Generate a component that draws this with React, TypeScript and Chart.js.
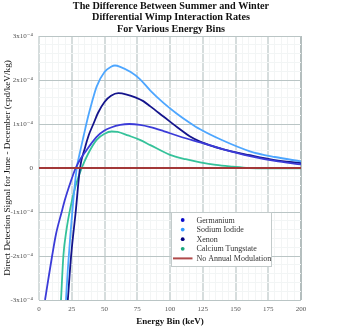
import React, { useEffect, useRef } from 'react';
import { Chart, registerables } from 'chart.js';

Chart.register(...registerables);

const titleLines = [
  'The Difference Between Summer and Winter',
  'Differential Wimp Interaction Rates',
  'For Various Energy Bins',
];
const yTitle = 'Direct Detection Signal for June - December (cpd/keV/kg)';
const xTitle = 'Energy Bin (keV)';

// y values in units of 1e-4 cpd/keV/kg
const geEnergy = [4.6, 7, 10, 13, 17.3, 20, 24, 28, 32, 36.4, 40, 44, 50, 55, 62, 69, 77, 85, 95, 108, 123, 140, 161, 180, 200];
const geRate = [-3.0, -2.55, -2.0, -1.5, -1.0, -0.7, -0.33, 0.0, 0.22, 0.41, 0.56, 0.71, 0.85, 0.92, 0.98, 1.0, 0.98, 0.93, 0.84, 0.71, 0.58, 0.43, 0.27, 0.16, 0.08];

const naiEnergy = [20.6, 22, 24, 26, 28.8, 31, 34, 37.4, 40, 44, 50, 55, 58, 62, 70, 77, 85, 95, 105, 115, 123, 140, 161, 180, 200];
const naiRate = [-3.0, -2.3, -1.5, -0.8, 0.0, 0.32, 0.72, 1.16, 1.45, 1.85, 2.18, 2.3, 2.33, 2.3, 2.18, 2.02, 1.76, 1.48, 1.24, 1.03, 0.88, 0.63, 0.38, 0.25, 0.15];

const xeEnergy = [22, 24.5, 28, 31.3, 35, 38, 41.5, 45, 50, 55, 60.5, 67, 74, 79.6, 85, 95, 107.6, 115, 123, 140, 161, 180, 200];
const xeRate = [-3.0, -2.0, -1.0, 0.0, 0.45, 0.75, 1.0, 1.25, 1.5, 1.64, 1.7, 1.67, 1.6, 1.52, 1.4, 1.17, 0.88, 0.72, 0.6, 0.43, 0.29, 0.18, 0.11];

const cawEnergy = [16.8, 18.6, 21, 24, 28, 32.6, 37.6, 44, 50, 55.5, 60, 68, 77, 85, 100, 112, 123, 135, 148, 160, 175, 200];
const cawRate = [-3.0, -2.0, -1.4, -0.9, -0.4, 0.0, 0.33, 0.64, 0.78, 0.83, 0.82, 0.74, 0.64, 0.52, 0.3, 0.2, 0.13, 0.07, 0.03, 0.0, -0.01, -0.01];

const zeroEnergy = [0, 200];
const zeroRate = [0, 0];

const seriesNames = ['Germanium', 'Sodium Iodide', 'Xenon', 'Calcium Tungstate', 'No Annual Modulation'];
const lineColors = ['#3b3bd8', '#4da6ff', '#14148c', '#35c29a', '#a33838'];
const dotColors = ['#0a0acc', '#3399ff', '#000080', '#1aa77c', '#b04a4a'];

const SERIF = '"Liberation Serif", "DejaVu Serif", serif';

const toPoints = (xs: number[], ys: number[]) => xs.map((x, i) => ({ x, y: ys[i] }));

export default function App() {
  const ref = useRef<HTMLCanvasElement>(null);

  useEffect(() => {
    document.body.style.margin = '0';
    const overlay = {
      id: 'overlay',
      afterDraw(chart: any) {
        const ctx = chart.ctx as CanvasRenderingContext2D;
        const area = chart.chartArea;
        ctx.save();
        // main title
        ctx.fillStyle = '#111';
        ctx.textAlign = 'center';
        ctx.textBaseline = 'middle';
        ctx.font = `bold 10.2px ${SERIF}`;
        const cx = (area.left + area.right) / 2 + 1;
        titleLines.forEach((t, i) => ctx.fillText(t, cx, 6.5 + i * 11.3));
        // x title
        ctx.font = `bold 9px ${SERIF}`;
        ctx.fillText(xTitle, (area.left + area.right) / 2, 322);
        // y title
        ctx.save();
        ctx.translate(8, (area.top + area.bottom) / 2);
        ctx.rotate(-Math.PI / 2);
        ctx.font = `9.2px ${SERIF}`;
        ctx.fillText(yTitle, 0, 0);
        ctx.restore();
        // legend
        const lx = 171, ly = 212, lw = 100, lh = 54;
        ctx.fillStyle = '#ffffff';
        ctx.fillRect(lx, ly, lw, lh);
        ctx.strokeStyle = '#c3cbcb';
        ctx.lineWidth = 1;
        ctx.strokeRect(lx + 0.5, ly + 0.5, lw, lh);
        ctx.font = `8px ${SERIF}`;
        ctx.textAlign = 'left';
        seriesNames.forEach((name, i) => {
          const y = 220 + i * 9.6;
          if (i < 4) {
            ctx.fillStyle = dotColors[i];
            ctx.beginPath();
            ctx.arc(182.7, y, 1.9, 0, Math.PI * 2);
            ctx.fill();
          } else {
            ctx.strokeStyle = dotColors[i];
            ctx.lineWidth = 2;
            ctx.beginPath();
            ctx.moveTo(173, y);
            ctx.lineTo(192.5, y);
            ctx.stroke();
          }
          ctx.fillStyle = '#333';
          ctx.fillText(name, 196.5, y + 0.5);
        });
        ctx.restore();
      },
    };

    const series = [
      toPoints(geEnergy, geRate),
      toPoints(naiEnergy, naiRate),
      toPoints(xeEnergy, xeRate),
      toPoints(cawEnergy, cawRate),
      toPoints(zeroEnergy, zeroRate),
    ];

    const chart = new Chart(ref.current!, {
      type: 'line',
      data: {
        datasets: series.map((data, i) => ({
          label: seriesNames[i],
          data,
          borderColor: lineColors[i],
          backgroundColor: lineColors[i],
          borderWidth: i === 4 ? 2.2 : 1.8,
          pointRadius: 0,
          fill: false,
          cubicInterpolationMode: 'monotone' as const,
          order: i === 4 ? 0 : 1,
        })),
      },
      options: {
        responsive: false,
        animation: false,
        devicePixelRatio: 1,
        layout: { padding: { top: 36, left: 0, right: 40, bottom: 0 } },
        plugins: {
          legend: { display: false },
          title: { display: false },
          tooltip: { enabled: false },
        },
        scales: {
          x: {
            type: 'linear',
            min: 0,
            max: 200,
            afterFit: (s: any) => { s.height = 29; },
            border: { display: false },
            grid: {
              drawTicks: false,
              color: (c: any) => {
                const v = c.tick?.value;
                if (v === 200) return '#b4bebe';
                return v % 25 === 0 ? '#d6dddd' : '#f3f5f5';
              },
              lineWidth: (c: any) => (c.tick?.value % 25 === 0 ? 2 : 1),
            },
            ticks: {
              stepSize: 5,
              autoSkip: false,
              maxTicksLimit: 100,
              maxRotation: 0,
              padding: 5,
              color: '#555',
              font: { family: SERIF, size: 7 },
              callback: (v: any) => (Number(v) % 25 === 0 ? String(v) : ''),
            },
          },
          y: {
            type: 'linear',
            min: -3,
            max: 3,
            afterFit: (s: any) => { s.width = 39; },
            border: { display: false },
            grid: {
              drawTicks: false,
              color: (c: any) => {
                const v = c.tick?.value;
                return Math.abs(v - Math.round(v)) < 1e-6 ? '#bac5c5' : '#f2f5f5';
              },
              lineWidth: 1,
            },
            ticks: {
              stepSize: 0.2,
              autoSkip: false,
              maxTicksLimit: 100,
              padding: 6,
              color: '#555',
              font: { family: SERIF, size: 7 },
              callback: (v: any) => {
                const n = Number(v);
                const r = Math.round(n);
                if (Math.abs(n - r) > 1e-6) return '';
                if (r === 0) return '0';
                return `${r}x10⁻⁴`;
              },
            },
          },
        },
      },
      plugins: [overlay],
    });
    return () => chart.destroy();
  }, []);

  return (
    <div style={{ position: 'absolute', left: 0, top: 0, width: 341, height: 329, background: '#fff' }}>
      <canvas ref={ref} width={341} height={329} style={{ display: 'block' }} />
    </div>
  );
}
